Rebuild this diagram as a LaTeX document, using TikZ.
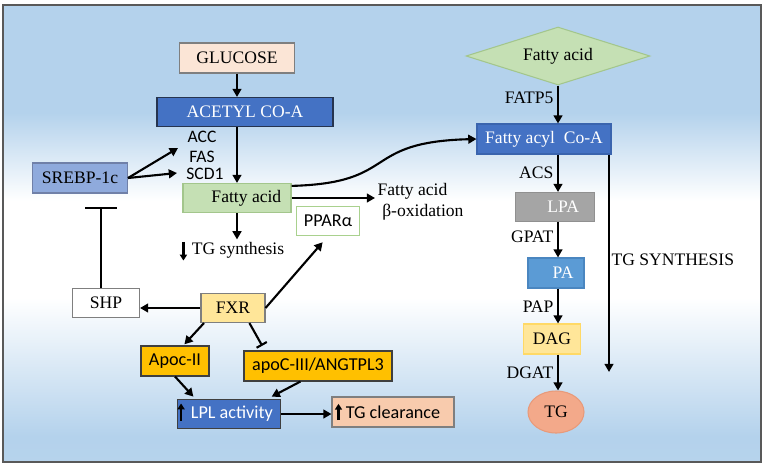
\documentclass[tikz,border=0pt]{standalone}
\usepackage{fontspec}
\setmainfont{Liberation Serif}
\newfontfamily\calibri{Carlito}
\usetikzlibrary{arrows.meta,shapes.geometric}
\definecolor{bgblue}{HTML}{B4D2EC}
\definecolor{bglight}{HTML}{C7DDF1}
\definecolor{framegray}{HTML}{595959}
\definecolor{accblue}{HTML}{4472C4}
\definecolor{navy}{HTML}{26344F}
\definecolor{glucosefill}{HTML}{FBE5D6}
\definecolor{boxgray}{HTML}{7F7F7F}
\definecolor{srebpfill}{HTML}{8FAADC}
\definecolor{srebpline}{HTML}{7080A8}
\definecolor{leafgreen}{HTML}{C5E0B4}
\definecolor{leafline}{HTML}{A3C68C}
\definecolor{pparline}{HTML}{A9D18E}
\definecolor{fxrfill}{HTML}{FFE699}
\definecolor{apocfill}{HTML}{FFC000}
\definecolor{darkline}{HTML}{3F3F3F}
\definecolor{clearfill}{HTML}{F8CBAD}
\definecolor{acylline}{HTML}{3A64AE}
\definecolor{lpagray}{HTML}{A5A5A5}
\definecolor{lpaline}{HTML}{909090}
\definecolor{pablue}{HTML}{5B9BD5}
\definecolor{paline}{HTML}{4A86C0}
\definecolor{dagline}{HTML}{FFD966}
\definecolor{tgfill}{HTML}{F3A98A}
\definecolor{tgline}{HTML}{E89A7A}
\pgfdeclareverticalshading{backdrop}{100bp}{color(0bp)=(bglight);
  color(27.8bp)=(bgblue); color(43bp)=(white); color(53.6bp)=(white);
  color(63.2bp)=(bgblue); color(100bp)=(bgblue)}
\newcommand\px{0.03cm}
\tikzset{
  txt/.style={font=\fontsize{15}{18}\selectfont},
  box/.style={draw,line width=0.9pt,inner sep=0pt,txt},
  sbox/.style={box,font=\calibri\fontsize{15.5}{18}\selectfont},
  lbl/.style={txt,inner sep=2pt},
  slbl/.style={font=\calibri\fontsize{15}{17}\selectfont,inner sep=1pt},
  arr/.style={line width=1.8pt,-{Triangle[length=7pt,width=7.5pt]}},
  inh/.style={line width=1.8pt,-{Bar[width=10pt]}},
  inhwide/.style={line width=1.8pt,-{Bar[width=27pt]}},
  tick/.style={line width=2pt,-{Triangle[length=5pt,width=6pt]}}
}

\begin{document}
\begin{tikzpicture}[x=0.03cm,y=-0.03cm]
\fill[white] (0,0) rectangle (765,469);
\useasboundingbox (0,0) rectangle (765,469);
\shade[shading=backdrop] (3,5) rectangle (761,462);
\draw[framegray,line width=1.2pt] (3,5) rectangle (761,462);

% left part
\node[box,fill=glucosefill,draw=boxgray,minimum width=115*\px,minimum height=30*\px] (glucose) at (237,58) {GLUCOSE};
\node[box,fill=accblue,draw=navy,text=white,minimum width=176*\px,minimum height=29*\px] (acetyl) at (245,112) {ACETYL CO-A};
\node[box,fill=srebpfill,draw=srebpline,minimum width=95*\px,minimum height=30*\px] (srebp) at (80,178) {SREBP-1c};
\node[box,fill=leafgreen,draw=leafline,minimum width=108*\px,minimum height=29*\px] (fa1) at (237,198) {\hspace*{16pt}Fatty acid};
\node[sbox,fill=white,draw=pparline,minimum width=63*\px,minimum height=29*\px] (ppar) at (328,221) {PPARα};
\node[box,fill=white,draw=boxgray,minimum width=67*\px,minimum height=29*\px] (shp) at (106,303) {SHP};
\node[box,fill=fxrfill,draw=boxgray,minimum width=64*\px,minimum height=29*\px] (fxr) at (233,308) {FXR};
\node[sbox,fill=apocfill,draw=darkline,minimum width=68*\px,minimum height=30*\px] (apocii) at (175,361) {Apoc-II};
\node[sbox,fill=apocfill,draw=darkline,minimum width=148*\px,minimum height=30*\px] (apociii) at (318,366) {apoC-III/ANGTPL3};
\node[sbox,fill=accblue,draw=darkline,text=white,minimum width=103*\px,minimum height=29*\px] (lpl) at (229,414) {\hspace*{5pt}LPL activity};
\node[sbox,fill=clearfill,draw=boxgray,minimum width=122*\px,minimum height=30*\px] (tgclear) at (393,412) {TG clearance};

\node[slbl] (acc) at (202,137) {ACC};
\node[slbl] (fas) at (202,157) {FAS};
\node[slbl] (scd) at (205,174) {SCD1};
\node[lbl,anchor=west,align=left] (beta) at (375,201.5) {Fatty acid\\\hspace*{4pt}β-oxidation};
\node[lbl] (tgsyn) at (238,250) {TG synthesis};

\coordinate (accend) at (178,148);
\coordinate (scdend) at (177,173);
\coordinate (shpbar) at (101,207);

% right part
\node[diamond,aspect=3.2,inner sep=0pt,draw=leafline,fill=leafgreen,line width=0.9pt,txt,minimum width=184*\px,minimum height=58*\px] (fa2) at (558,56) {Fatty acid};
\node[box,fill=accblue,draw=acylline,text=white,minimum width=134*\px,minimum height=30*\px] (acyl) at (544,139) {Fatty acyl\hspace{0.5em}Co-A};
\node[box,fill=lpagray,draw=lpaline,text=white,minimum width=79*\px,minimum height=29*\px] (lpa) at (555,207) {\hspace*{14pt}LPA};
\node[box,fill=pablue,draw=paline,text=white,minimum width=56*\px,minimum height=30*\px] (pa) at (556,273) {\hspace*{12pt}PA};
\node[box,fill=fxrfill,draw=dagline,minimum width=57*\px,minimum height=30*\px] (dag) at (552,339) {DAG};
\node[ellipse,inner sep=0pt,fill=tgfill,draw=tgline,line width=0.9pt,txt,minimum width=56*\px,minimum height=42*\px] (tg) at (556,412) {TG};

\node[lbl,anchor=east] (fatp5) at (556,98) {FATP5};
\node[lbl,anchor=east] (acs) at (556,173) {ACS};
\node[lbl,anchor=east] (gpat) at (556,237) {GPAT};
\node[lbl,anchor=east] (pap) at (556,307) {PAP};
\node[lbl,anchor=east] (dgat) at (556,373) {DGAT};
\node[lbl,anchor=west] (tgbig) at (609,260) {TG SYNTHESIS};
\coordinate (tgend) at (609,372);

% connectors
\draw[arr] (glucose.south) -- (glucose.south |- acetyl.north);
\draw[arr] (acetyl.south -| fa1) -- (fa1.north);
\draw[arr] (srebp.east) -- (accend);
\draw[arr] (srebp.east) -- (scdend);
\draw[arr] ([yshift=-2.5pt]fa1.north east) .. controls (400,183) and (360,142) .. (acyl.west);
\draw[arr] (fa1.east) -- (fa1.east -| beta.west);
\draw[arr] (fa1.south) -- (fa1.south |- tgsyn.north);
\draw[tick] ([shift={(-5pt,7pt)}]tgsyn.west) -- ([shift={(-5pt,-9pt)}]tgsyn.west);
\draw[inhwide] (shpbar |- shp.north) -- (shpbar);
\draw[arr] (fxr.west) -- (fxr.west -| shp.east);
\draw[arr,shorten >=7pt] (fxr.east) -- (ppar.south);
\draw[arr] ([xshift=3pt]fxr.south west) -- ([shift={(8pt,1pt)}]apocii.north);
\draw[inh] ([xshift=14pt]fxr.south) -- ([shift={(16pt,4pt)}]apociii.north west);
\draw[arr] (apocii.south) -- ([shift={(14pt,2pt)}]lpl.north west);
\draw[arr] ([xshift=-15pt]apociii.south) -- ([shift={(-8pt,2pt)}]lpl.north east);
\draw[arr] (lpl.east) -- (lpl.east -| tgclear.west);
\draw[tick] ([shift={(3.5pt,-6pt)}]lpl.west) -- ([shift={(3.5pt,9pt)}]lpl.west);
\draw[tick] ([shift={(6pt,-7pt)}]tgclear.west) -- ([shift={(6pt,7pt)}]tgclear.west);

\draw[arr] (fa2.south) -- (fa2.south |- acyl.north);
\draw[arr] (acyl.south -| fa2) -- (lpa.north -| fa2);
\draw[arr] (lpa.south -| fa2) -- (pa.north -| fa2);
\draw[arr] (pa.south -| fa2) -- (dag.north -| fa2);
\draw[arr] (dag.south -| fa2) -- (tg.north -| fa2);
\draw[arr] (acyl.south east -| tgend) -- (tgend);
\end{tikzpicture}
\end{document}
